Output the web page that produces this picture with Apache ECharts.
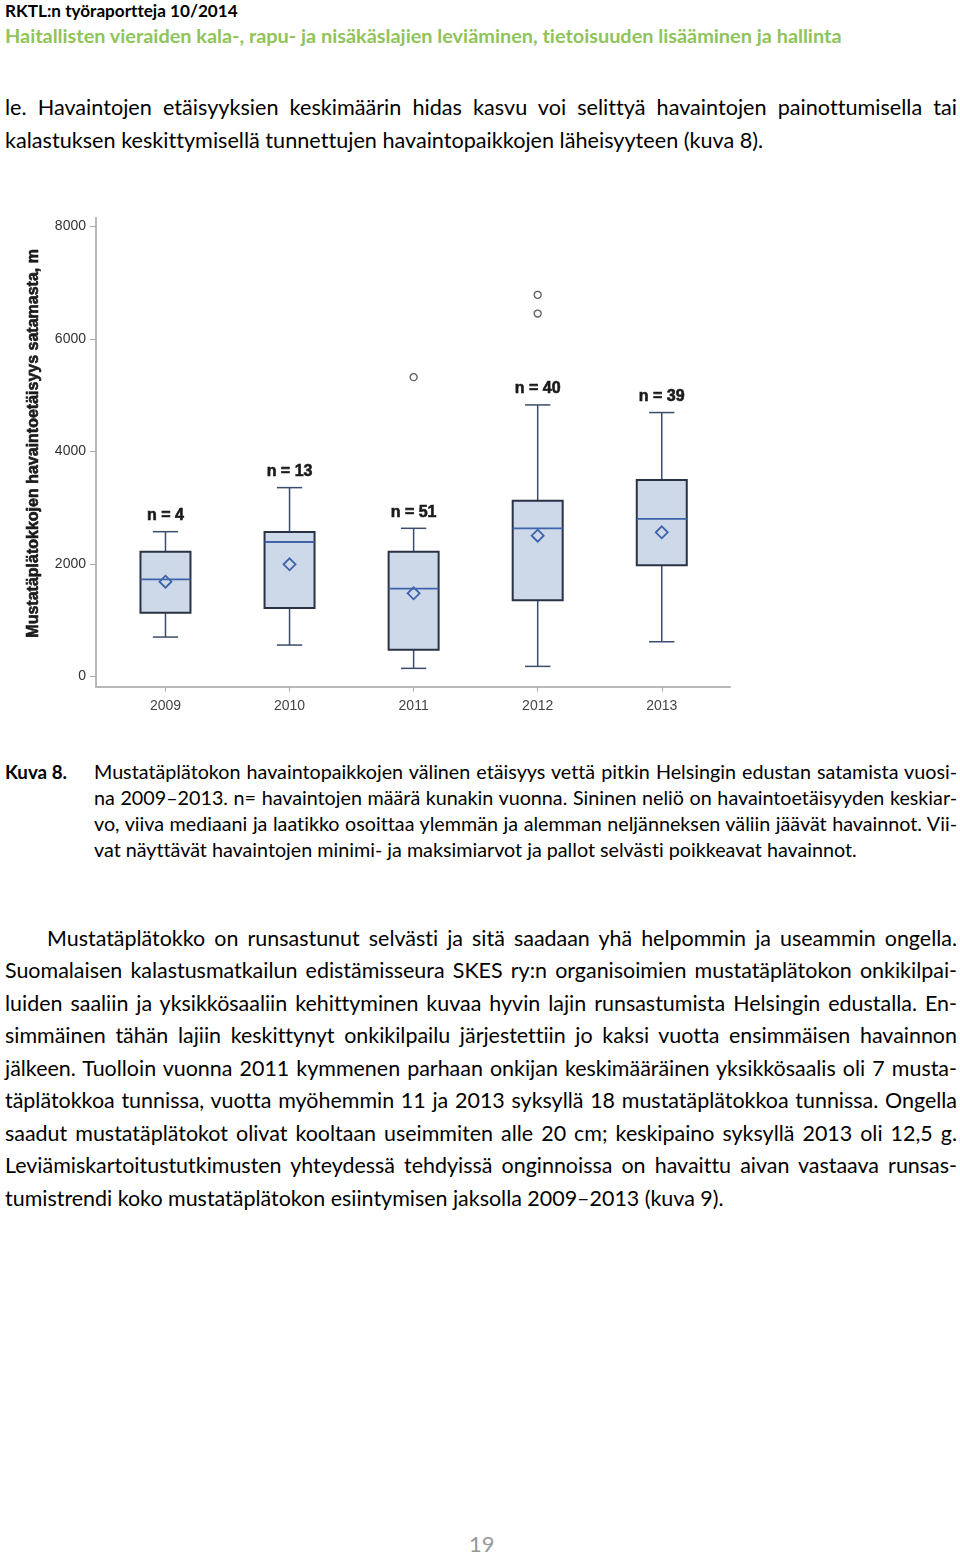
<!DOCTYPE html>
<html>
<head>
<meta charset="utf-8">
<script src="https://cdn.jsdelivr.net/npm/echarts@6/dist/echarts.min.js"></script>
<style>
  html, body { margin:0; padding:0; background:#fff; }
  body { width:960px; height:1556px; position:relative; overflow:hidden; font-family: Lato, "Open Sans", sans-serif; color:#000; font-variant-ligatures:none; }
  .ln { position:absolute; white-space:nowrap; line-height:30px; height:30px; }
  .j { white-space:normal; text-align:justify; text-align-last:justify; overflow:visible; }
  #chart { position:absolute; left:0; top:200px; width:760px; height:520px; }
</style>
</head>
<body>
<div class="ln" id="h1" style="font-weight:700;color:#000">RKTL:n työraportteja 10/2014</div>
<div class="ln" id="h2" style="font-weight:700;color:#8fc45a">Haitallisten vieraiden kala-, rapu- ja nisäkäslajien leviäminen, tietoisuuden lisääminen ja hallinta</div>

<div class="ln p1">le. Havaintojen etäisyyksien keskimäärin hidas kasvu voi selittyä havaintojen painottumisella tai</div>
<div class="ln p1">kalastuksen keskittymisellä tunnettujen havaintopaikkojen läheisyyteen (kuva 8).</div>

<div id="chart"></div>

<div class="ln" id="kuva" style="font-weight:700">Kuva 8.</div>
<div class="ln cap">Mustatäplätokon havaintopaikkojen välinen etäisyys vettä pitkin Helsingin edustan satamista vuosi-</div>
<div class="ln cap">na 2009–2013. n= havaintojen määrä kunakin vuonna. Sininen neliö on havaintoetäisyyden keskiar-</div>
<div class="ln cap">vo, viiva mediaani ja laatikko osoittaa ylemmän ja alemman neljänneksen väliin jäävät havainnot. Vii-</div>
<div class="ln cap">vat näyttävät havaintojen minimi- ja maksimiarvot ja pallot selvästi poikkeavat havainnot.</div>

<div class="ln body">Mustatäplätokko on runsastunut selvästi ja sitä saadaan yhä helpommin ja useammin ongella.</div>
<div class="ln body">Suomalaisen kalastusmatkailun edistämisseura SKES ry:n organisoimien mustatäplätokon onkikilpai-</div>
<div class="ln body">luiden saaliin ja yksikkösaaliin kehittyminen kuvaa hyvin lajin runsastumista Helsingin edustalla. En-</div>
<div class="ln body">simmäinen tähän lajiin keskittynyt onkikilpailu järjestettiin jo kaksi vuotta ensimmäisen havainnon</div>
<div class="ln body">jälkeen. Tuolloin vuonna 2011 kymmenen parhaan onkijan keskimääräinen yksikkösaalis oli 7 musta-</div>
<div class="ln body">täplätokkoa tunnissa, vuotta myöhemmin 11 ja 2013 syksyllä 18 mustatäplätokkoa tunnissa. Ongella</div>
<div class="ln body">saadut mustatäplätokot olivat kooltaan useimmiten alle 20 cm; keskipaino syksyllä 2013 oli 12,5 g.</div>
<div class="ln body">Leviämiskartoitustutkimusten yhteydessä tehdyissä onginnoissa on havaittu aivan vastaava runsas-</div>
<div class="ln body">tumistrendi koko mustatäplätokon esiintymisen jaksolla 2009–2013 (kuva 9).</div>

<div class="ln" id="pg" style="color:#999">19</div>

<script>
// ---------- chart data ----------
const years      = [2009, 2010, 2011, 2012, 2013];
const whiskerLow = [702, 560, 146, 181, 619];
const q1         = [1135, 1218, 477, 1355, 1978];
const median     = [1728, 2392, 1562, 2635, 2801];
const q3         = [2220, 2570, 2220, 3127, 3495];
const whiskerHigh= [2575, 3358, 2635, 4828, 4692];
const means      = [1686, 1995, 1480, 2504, 2564];
const nCounts    = [4, 13, 51, 40, 39];
const outlierYears  = [2011, 2012, 2012];
const outlierValues = [5321, 6785, 6452];
const yTickValues = [0, 2000, 4000, 6000, 8000];
const yAxisTitle = 'Mustatäplätokkojen havaintoetäisyys satamasta, m';

// ---------- text layout ----------
const cv = document.createElement('canvas').getContext('2d');
function meas(t, size, weight, fam){ cv.font = (weight||400)+' '+size+'px '+(fam||'Lato'); return cv.measureText(t).width; }
function place(el, x, cy, size){ el.style.left = x+'px'; el.style.top = (cy-15)+'px'; el.style.fontSize = size+'px'; }
function fitSize(t, w, weight){ return 100 * w / meas(t, 100, weight); }

const h1 = document.getElementById('h1');
place(h1, 5, 11, fitSize(h1.textContent, 232, 700));
const h2 = document.getElementById('h2');
place(h2, 5, 35, fitSize(h2.textContent, 838, 700));

function block(cls, xs, ys, x1, lastW){
  const els = Array.from(document.querySelectorAll('.'+cls));
  const last = els[els.length-1];
  const base = fitSize(last.textContent, lastW, 400);
  els.forEach((el, i) => {
    let s = base;
    if (i < els.length-1) {
      const w = x1 - xs[i];
      const nat = meas(el.textContent, s, 400);
      if (nat > w*0.995) s = s * w*0.99 / nat;
      el.classList.add('j');
      el.style.width = w+'px';
    }
    place(el, xs[i], ys[i], s);
  });
}
block('p1', [5,5], [107,140], 957, 757);
const kv = document.getElementById('kuva');
place(kv, 5, 772, fitSize(kv.textContent, 62, 700));
block('cap', [94,94,94,94], [772,798,824,850], 957, 763);
block('body', [47,5,5,5,5,5,5,5,5], [938,970,1003,1035,1068,1100,1133,1165,1198], 957, 719);
const pg = document.getElementById('pg');
place(pg, 469, 1544, 22);

// ---------- chart ----------
const boxData = years.map((y, i) => [y, whiskerLow[i], q1[i], median[i], q3[i], whiskerHigh[i], means[i]]);
const outlierData = outlierYears.map((y, i) => [y, outlierValues[i]]);

const chart = echarts.init(document.getElementById('chart'), null, {renderer:'canvas'});
const FONT = '"Liberation Sans", Arial, sans-serif';
chart.setOption({
  animation: false,
  textStyle: { fontFamily: FONT },
  grid: { left: 96, top: 18, width: 634, height: 468.7, containLabel: false },
  xAxis: {
    type: 'value', min: 2008.44, max: 2013.55,
    splitLine: { show: false },
    axisLine: { show: true, onZero: false, lineStyle: { color: '#b8b8b8', width: 2 } },
    axisTick: { show: true, customValues: years, length: 5, lineStyle: { color: '#aaa' } },
    axisLabel: { customValues: years, formatter: v => String(v), color: '#444', fontSize: 14, fontFamily: FONT, margin: 12 }
  },
  yAxis: {
    type: 'value', min: -180, max: 8150,
    splitLine: { show: false },
    axisLine: { show: true, onZero: false, lineStyle: { color: '#b8b8b8', width: 2 } },
    axisTick: { show: true, customValues: yTickValues, length: 6, lineStyle: { color: '#aaa' } },
    axisLabel: { customValues: yTickValues, formatter: v => String(v), color: '#333', fontSize: 14, fontFamily: FONT, margin: 10 },
    name: yAxisTitle, nameLocation: 'middle', nameRotate: 90, nameGap: 54,
    nameTextStyle: { fontWeight: 'bold', fontSize: 16, color: '#1a1a1a', fontFamily: FONT, padding: [0,0,0,18],
                     textBorderColor: '#1a1a1a', textBorderWidth: 0.6 }
  },
  series: [
    {
      type: 'custom',
      data: boxData,
      encode: { x: 0, y: [1, 2, 3, 4, 5] },
      renderItem: function (params, api) {
        const x = api.value(0);
        const pLo = api.coord([x, api.value(1)]);
        const pQ1 = api.coord([x, api.value(2)]);
        const pMd = api.coord([x, api.value(3)]);
        const pQ3 = api.coord([x, api.value(4)]);
        const pHi = api.coord([x, api.value(5)]);
        const pMn = api.coord([x, api.value(6)]);
        const bw = api.size([0.403, 0])[0];
        const cw = api.size([0.204, 0])[0];
        const cx = pMd[0];
        const wl = { stroke: '#3b4c6c', lineWidth: 1.5 };
        const d = 6;
        return { type: 'group', children: [
          { type: 'line', shape: { x1: cx, y1: pHi[1], x2: cx, y2: pQ3[1] }, style: wl },
          { type: 'line', shape: { x1: cx, y1: pQ1[1], x2: cx, y2: pLo[1] }, style: wl },
          { type: 'line', shape: { x1: cx - cw/2, y1: pHi[1], x2: cx + cw/2, y2: pHi[1] }, style: wl },
          { type: 'line', shape: { x1: cx - cw/2, y1: pLo[1], x2: cx + cw/2, y2: pLo[1] }, style: wl },
          { type: 'rect', shape: { x: cx - bw/2, y: pQ3[1], width: bw, height: pQ1[1] - pQ3[1] },
            style: { fill: '#cdd8e9', stroke: '#2a3244', lineWidth: 2 } },
          { type: 'line', shape: { x1: cx - bw/2, y1: pMd[1], x2: cx + bw/2, y2: pMd[1] },
            style: { stroke: '#3f64ab', lineWidth: 1.8 } },
          { type: 'polygon', shape: { points: [[cx, pMn[1]-d], [cx+d, pMn[1]], [cx, pMn[1]+d], [cx-d, pMn[1]]] },
            style: { fill: 'rgba(0,0,0,0)', stroke: '#3d62a9', lineWidth: 1.8 } },
          { type: 'text', x: cx, y: pHi[1] - 8,
            style: { text: 'n = ' + nCounts[params.dataIndex], align: 'center', verticalAlign: 'bottom',
                     font: 'bold 16px "Liberation Sans", Arial, sans-serif', fill: '#1a1a1a',
                     stroke: '#1a1a1a', lineWidth: 0.6 } }
        ]};
      },
      z: 2
    },
    {
      type: 'scatter',
      data: outlierData,
      symbol: 'circle', symbolSize: 7,
      itemStyle: { color: '#fff', borderColor: '#333', borderWidth: 1.3 },
      z: 3
    }
  ]
});
</script>
</body>
</html>
